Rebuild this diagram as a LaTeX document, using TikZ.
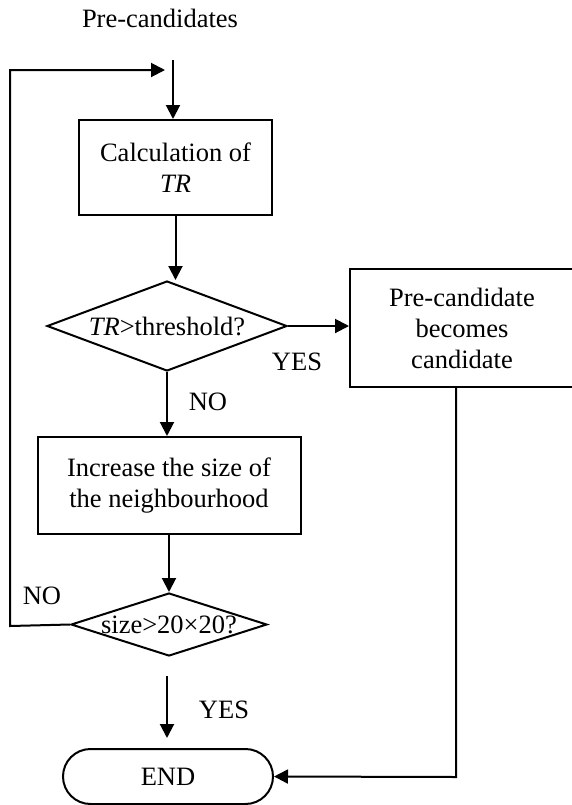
\documentclass[tikz,border=0pt]{standalone}
\usepackage{fontspec}
\setmainfont{Liberation Serif}
\usetikzlibrary{shapes.geometric,shapes.misc,arrows.meta}

\begin{document}
\begin{tikzpicture}[x=0.5pt,y=-0.5pt,line width=1pt,
    every node/.style={font=\fontsize{13.25}{15.5}\selectfont},
    procbox/.style={draw,rectangle,align=center,inner sep=0pt},
    decision/.style={draw,diamond,inner sep=0pt},
    terminal/.style={draw,rounded rectangle,inner sep=0pt},
    arr/.style={-{Triangle[length=7pt,width=7pt]}}]
            \useasboundingbox (0,0) rectangle (572,805);

            %Nodes
            \node at (160,18)     (pre)    {Pre-candidates};
            \node[procbox,minimum width=96.5pt,minimum height=47.5pt] at (175.5,167.5) (calc)
                {Calculation of\\\textit{TR}};
            \node[decision,aspect=2.67,minimum width=120pt,minimum height=45pt] at (167,326) (thr)
                {\textit{TR}>threshold?};
            \node[procbox,minimum width=112pt,minimum height=59pt] at (462,328) (cand)
                {Pre-candidate\\becomes\\candidate};
            \node[procbox,minimum width=131.5pt,minimum height=48.5pt] at (169,485.5) (grow)
                {Increase the size of\\the neighbourhood};
            \node[decision,aspect=3.1,inner xsep=-5.5pt,minimum width=98pt,minimum height=31.5pt] at (169,624.5) (size)
                {size>20×20?};
            \node[terminal,minimum width=105pt,minimum height=27.5pt] at (168,776.5) (end) {END};

            \node at (297,362) (yes1) {YES};
            \node at (208,402) (no1)  {NO};
            \node at (42,596)  (no2)  {NO};
            \node at (224,710) (yes2) {YES};

            \coordinate (entry)  at (173,60);
            \coordinate (loopbl) at (10,626);
            \coordinate (looptl) at (10,70);
            \coordinate (looptr) at (165,70);
            \coordinate (yesa)   at (167,676);
            \coordinate (yesb)   at (167,738);
            \coordinate (corner) at (456,777);

            %Lines
            \draw[arr] (entry) -- (entry |- calc.north);
            \draw[arr] (calc.south) -- (calc.south |- thr.north);
            \draw[arr] (thr.east) -- (thr.east -| cand.west);
            \draw[arr] (thr.south) -- (thr.south |- grow.north);
            \draw[arr] (grow.south) -- (size.north);
            \draw[arr] (size.west) -- (loopbl) -- (looptl) -- (looptr);
            \draw[arr] (yesa) -- (yesb);
            \draw[arr] (cand.south -| corner) -- (corner) -- (end.east);
        \end{tikzpicture}
\end{document}
